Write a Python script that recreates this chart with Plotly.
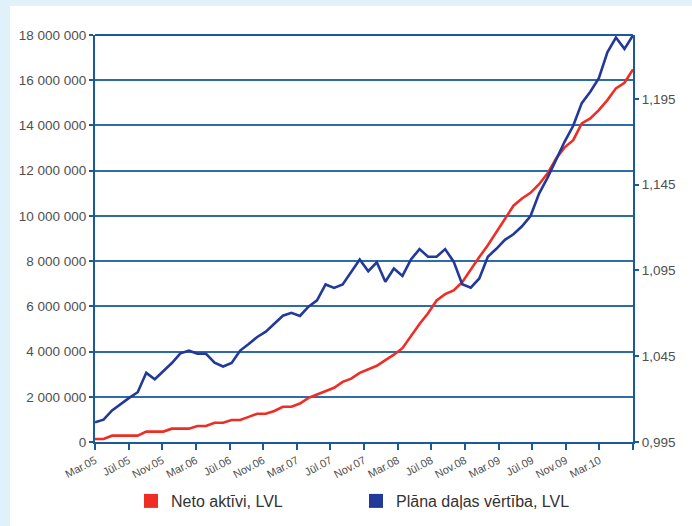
import numpy as np
import plotly.graph_objects as go

# ---- data ----
tick_labels = ["Mar.05", "Jūl.05", "Nov.05", "Mar.06", "Jūl.06", "Nov.06", "Mar.07",
               "Jūl.07", "Nov.07", "Mar.08", "Jūl.08", "Nov.08", "Mar.09", "Jūl.09",
               "Nov.09", "Mar.10", ""]

neto_aktivi = [130000, 130000, 280000, 280000, 280000, 280000, 460000, 460000, 460000,
               590000, 590000, 590000, 710000, 710000, 850000, 850000, 970000, 970000,
               1110000, 1250000, 1250000, 1370000, 1560000, 1560000, 1700000, 1950000,
               2100000, 2250000, 2400000, 2660000, 2800000, 3060000, 3220000, 3370000,
               3620000, 3860000, 4150000, 4700000, 5220000, 5690000, 6260000, 6540000,
               6700000, 7070000, 7650000, 8180000, 8700000, 9300000, 9900000, 10450000,
               10770000, 11020000, 11400000, 11880000, 12540000, 13030000, 13350000,
               14090000, 14310000, 14680000, 15120000, 15640000, 15890000, 16480000]

dalas_vertiba = [1.0065, 1.0080, 1.0134, 1.0173, 1.0207, 1.0240, 1.0353, 1.0316, 1.0366,
                 1.0410, 1.0467, 1.0482, 1.0464, 1.0464, 1.0412, 1.0390, 1.0411, 1.0483,
                 1.0521, 1.0562, 1.0593, 1.0641, 1.0686, 1.0703, 1.0685, 1.0739, 1.0776,
                 1.0868, 1.0848, 1.0868, 1.0945, 1.1014, 1.0945, 1.0997, 1.0884, 1.0961,
                 1.0918, 1.1014, 1.1074, 1.1030, 1.1030, 1.1074, 1.1001, 1.0869, 1.0849,
                 1.0903, 1.1030, 1.1076, 1.1128, 1.1161, 1.1207, 1.1267, 1.1398, 1.1491,
                 1.1596, 1.1701, 1.1793, 1.1925, 1.1991, 1.2070, 1.2221, 1.2307, 1.2241,
                 1.2320]

right_ticks = [0.995, 1.045, 1.095, 1.145, 1.195]

RED = "#ee2e24"
BLUE = "#22399a"
AXIS = "#1b5a98"
GRID = "#2e6ca8"
TXT = "#505050"
FONT = "Liberation Sans"

n = len(neto_aktivi)
months = np.linspace(0, 64, n)          # points spread over the category axis
tick_pos = np.arange(0, 65, 4)

fig = go.Figure()
fig.add_trace(go.Scatter(x=months, y=neto_aktivi, mode="lines",
                         line=dict(color=RED, width=2.6), showlegend=False))
fig.add_trace(go.Scatter(x=months, y=dalas_vertiba, mode="lines", yaxis="y2",
                         line=dict(color=BLUE, width=2.6), showlegend=False))
# legend entries (square swatches)
fig.add_trace(go.Scatter(x=[None], y=[None], mode="markers", name="Neto aktīvi, LVL",
                         marker=dict(symbol="square", size=14, color=RED), legend="legend"))
fig.add_trace(go.Scatter(x=[None], y=[None], mode="markers", name="Plāna daļas vērtība, LVL",
                         marker=dict(symbol="square", size=14, color=BLUE), legend="legend2"))

W, H = 692, 526
L, R, T, B = 95, 59, 35, 84
pw, ph = W - L - R, H - T - B

def px_x(p):
    return (p - L) / pw

def px_y(p):
    return (H - B - p) / ph

fig.update_layout(
    width=W, height=H,
    margin=dict(l=L, r=R, t=T, b=B, autoexpand=False),
    paper_bgcolor="#e0f1f9",
    plot_bgcolor="white",
    separators=", ",
    font=dict(family=FONT, size=13.5, color=TXT),
    shapes=[dict(type="rect", xref="paper", yref="paper", layer="below",
                 x0=px_x(10), x1=px_x(W + 5), y0=px_y(6), y1=px_y(H + 5),
                 fillcolor="white", line=dict(width=0)),
            dict(type="line", xref="paper", yref="paper", layer="above",
                 x0=0, x1=1, y0=1, y1=1, line=dict(color=AXIS, width=2))],
    xaxis=dict(range=[0, 64], tickvals=tick_pos, ticktext=tick_labels,
               tickangle=-28, tickfont=dict(size=11, color=TXT), automargin=False,
               showgrid=False, zeroline=False, showline=True,
               linecolor=AXIS, linewidth=2, ticks="outside", ticklen=6,
               tickcolor=AXIS, tickwidth=1.5),
    yaxis=dict(range=[0, 18000000], dtick=2000000, tickformat=",d", automargin=False,
               showgrid=True, gridcolor=GRID, gridwidth=1.5, zeroline=False,
               showline=True, linecolor=AXIS, linewidth=2,
               ticks="outside", ticklen=4, tickcolor=AXIS, tickwidth=1.5),
    yaxis2=dict(range=[0.995, 1.2322], overlaying="y", side="right", automargin=False,
                tickvals=right_ticks, tickformat=".3f", showgrid=False,
                zeroline=False, showline=True, linecolor=AXIS, linewidth=2,
                ticks="outside", ticklen=4, tickcolor=AXIS, tickwidth=1.5),
    legend=dict(orientation="h", xref="container", yref="container",
                x=131 / W, xanchor="left", y=1 - 501 / H, yanchor="middle",
                bgcolor="rgba(0,0,0,0)", font=dict(size=16, color="#333333")),
    legend2=dict(orientation="h", xref="container", yref="container",
                 x=356 / W, xanchor="left", y=1 - 501 / H, yanchor="middle",
                 bgcolor="rgba(0,0,0,0)", font=dict(size=16, color="#333333")),
)

fig.write_html("out.html", config={"displayModeBar": False},
               post_script="document.body.style.margin='0';document.body.style.overflow='hidden';")
